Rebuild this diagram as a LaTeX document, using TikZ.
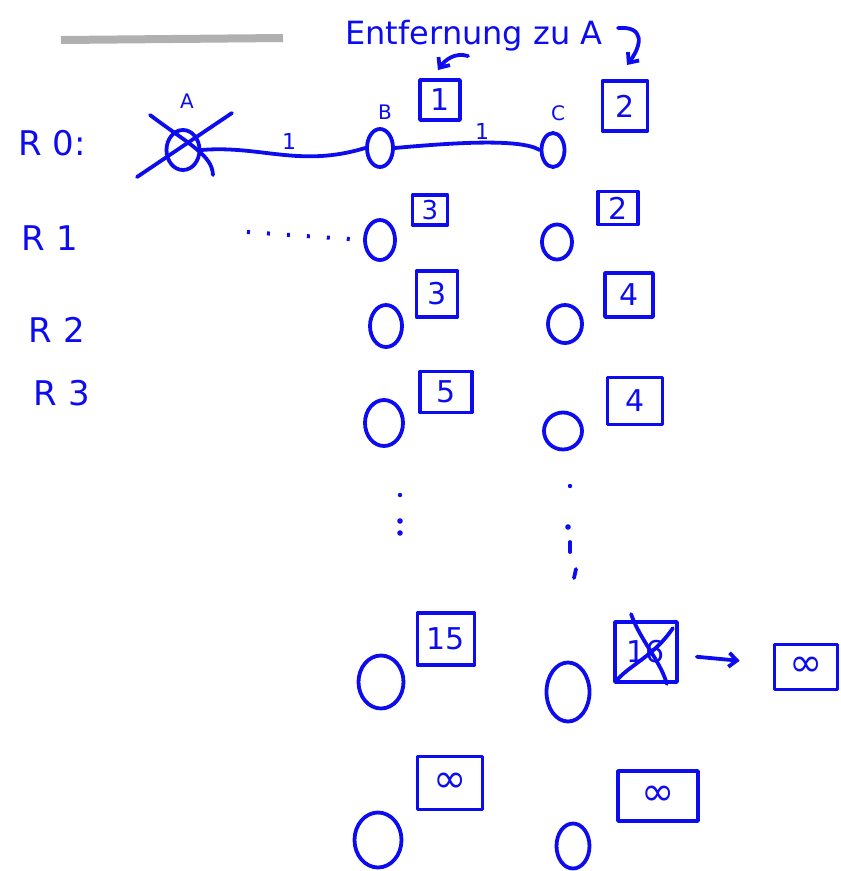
\documentclass[tikz,border=0pt]{standalone}
\usepackage{fontspec}
\setmainfont{DejaVu Sans}
\usetikzlibrary{shapes.geometric,arrows.meta}
\definecolor{ink}{RGB}{12,12,238}
\definecolor{barcol}{RGB}{176,176,176}
\tikzset{
  pen/.style={draw=ink, line width=3.8pt, line cap=round, line join=round},
  vtx/.style={ellipse, pen, inner sep=0pt},
  dbox/.style={rectangle, pen, text=ink, inner sep=0pt, font=\fontsize{30}{30}\selectfont},
  infbox/.style={dbox, font=\fontsize{40}{40}\selectfont},
  rowlab/.style={text=ink, font=\fontsize{34}{34}\selectfont},
  vlab/.style={text=ink, font=\fontsize{20}{20}\selectfont},
  elab/.style={text=ink, font=\fontsize{22}{22}\selectfont},
  harrow/.style={pen, -{Straight Barb[length=8pt,width=14pt]}},
  dotmark/.style={fill=ink, draw=none}
}
\begin{document}
\begin{tikzpicture}[x=1pt,y=-1pt]
\useasboundingbox (0,0) rectangle (841,871);
% grey bar
\draw[barcol, line width=8pt] (61,40) -- (283,38);
% heading
\node[text=ink, font=\fontsize{32}{32}\selectfont] (head) at (474,36) {Entfernung zu A};
% row labels
\node[rowlab] (r0) at (52,143) {R 0:};
\node[rowlab] (r1) at (50,238) {R 1};
\node[rowlab] (r2) at (57,330) {R 2};
\node[rowlab] (r3) at (62,393) {R 3};
% row 0 vertices
\node[vtx, minimum width=33, minimum height=40] (A) at (183,150) {};
\node[vtx, minimum width=26, minimum height=38] (B) at (380,148) {};
\node[vtx, minimum width=23, minimum height=34] (C) at (553,150) {};
\node[vlab] (la) at (187,101) {A};
\node[vlab] (lb) at (385,112) {B};
\node[vlab] (lc) at (558,113) {C};
% cross over A
\coordinate (x1) at (137,177);
\coordinate (x2) at (232,113);
\coordinate (x3) at (150,115);
\coordinate (x4) at (213,175);
\draw[pen] (x1) -- (x2);
\draw[pen] (x3) .. controls (190,145) and (212,155) .. (x4);
% edges row 0
\draw[pen] (A.east) .. controls (260,145) and (300,168) .. (B.west);
\draw[pen] (B.east) .. controls (450,143) and (520,138) .. (C.west);
\node[elab] (e1) at (289,141) {1};
\node[elab] (e2) at (482,131) {1};
% boxes row 0
\node[dbox, minimum width=40, minimum height=40] (b1) at (440,100) {1};
\node[dbox, minimum width=45, minimum height=50] (b2) at (625,106) {2};
% heading arrows
\coordinate (h1) at (468,56);
\coordinate (h1e) at (438,70);
\draw[harrow] (h1) .. controls (455,52) and (445,60) .. (h1e);
\coordinate (h2) at (618,28);
\coordinate (h2e) at (627,65);
\draw[harrow] (h2) .. controls (645,26) and (642,45) .. (h2e);
% row 1
\node[vtx, minimum width=30, minimum height=40] (B1) at (380,240) {};
\node[vtx, minimum width=30, minimum height=35] (C1) at (557,242) {};
\node[dbox, minimum width=35, minimum height=30, font=\fontsize{26}{26}\selectfont] (b3) at (430,210) {3};
\node[dbox, minimum width=40, minimum height=33] (b4) at (618,208) {2};
\coordinate (d0) at (247,232);
\draw[ink, line width=4pt, dash pattern=on 3pt off 17pt] (d0) -- (B1.west);
% row 2
\node[vtx, minimum width=32, minimum height=42] (B2) at (386,326) {};
\node[vtx, minimum width=34, minimum height=38] (C2) at (565,324) {};
\node[dbox, minimum width=41, minimum height=46] (b5) at (437,294) {3};
\node[dbox, minimum width=48, minimum height=44] (b6) at (629,295) {4};
% row 3
\node[vtx, minimum width=38, minimum height=46] (B3) at (384,423) {};
\node[vtx, minimum width=38, minimum height=37] (C3) at (563,431) {};
\node[dbox, minimum width=52, minimum height=41] (b7) at (446,392) {5};
\node[dbox, minimum width=55, minimum height=47] (b8) at (635,401) {4};
% vertical dots
\fill[dotmark] (400,495) circle (2.2pt);
\fill[dotmark] (400,521) circle (2.8pt);
\fill[dotmark] (400,533) circle (2.8pt);
\fill[dotmark] (570,486) circle (2.2pt);
\fill[dotmark] (568,527) circle (2.8pt);
\draw[pen] (570,542) -- (570,552);
\draw[pen] (576,569) -- (574,578);
% row n
\node[vtx, minimum width=45, minimum height=53] (B4) at (381,682) {};
\node[vtx, minimum width=43, minimum height=59] (C4) at (568,692) {};
\node[dbox, minimum width=57, minimum height=52] (b9) at (446,639) {15};
\node[dbox, minimum width=62, minimum height=60] (b10) at (646,652) {16};
\draw[pen] ([shift={(18,-6)}]b10.north west) .. controls (640,640) and (660,660) .. ([shift={(-12,0)}]b10.south east);
\draw[pen] ([shift={(4,-4)}]b10.south west) .. controls (630,665) and (655,655) .. ([shift={(-6,8)}]b10.north east);
\node[infbox, minimum width=63, minimum height=45] (b11) at (806,667) {∞};
\draw[harrow, shorten <=18pt, shorten >=33pt] (b10) -- (b11);
% last row
\node[vtx, minimum width=47, minimum height=55] (B5) at (378,840) {};
\node[vtx, minimum width=33, minimum height=45] (C5) at (573,846) {};
\node[infbox, minimum width=65, minimum height=53] (b12) at (450,783) {∞};
\node[infbox, minimum width=80, minimum height=50] (b13) at (658,796) {∞};
\end{tikzpicture}
\end{document}
